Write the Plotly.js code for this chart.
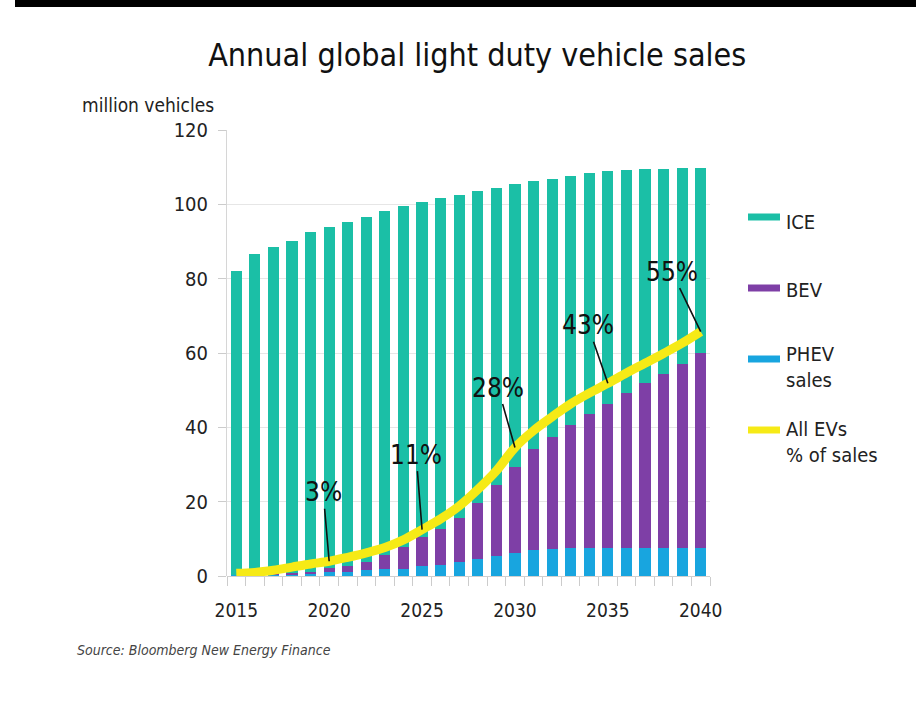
<!DOCTYPE html>
<html>
<head>
<meta charset="utf-8">
<script src="https://cdn.plot.ly/plotly-3.0.1.min.js"></script>
<style>
html,body{margin:0;padding:0;background:#fff;}
#chart{width:916px;height:715px;}
</style>
</head>
<body>
<div id="chart"></div>
<script>
const years = [2015,2016,2017,2018,2019,2020,2021,2022,2023,2024,2025,2026,2027,2028,2029,2030,2031,2032,2033,2034,2035,2036,2037,2038,2039,2040];
const phevSales = [0.2,0.2,0.3,0.4,0.6,1.0,1.2,1.5,1.8,2.0,2.8,2.9,3.7,4.5,5.4,6.3,7.0,7.3,7.5,7.5,7.5,7.5,7.5,7.5,7.5,7.5];
const bevSales = [0.1,0.2,0.3,0.4,0.6,1.1,1.5,2.4,3.9,5.7,7.8,9.7,12.0,15.1,19.1,23.1,27.3,30.2,33.1,36.0,38.7,41.7,44.4,46.9,49.5,52.6];
const iceSales = [81.7,86.3,87.9,89.3,91.3,91.8,92.6,92.8,92.4,91.9,90.0,89.0,86.9,84.0,80.0,76.1,71.9,69.4,67.1,64.9,62.7,60.0,57.5,55.1,52.7,49.6];
const evSharePct = [0.6,0.8,1.3,2.0,2.7,3.3,4.2,5.2,6.4,8.1,10.4,12.8,15.7,19.4,23.6,28.8,32.6,35.7,38.6,41.0,43.2,45.5,47.7,49.9,52.2,54.8];
const labelYears = [2020,2025,2030,2035,2040];
const labelTexts = ['3%','11%','28%','43%','55%'];
const labelOffsetsX = [-6,-6,-17,-20,-29];
const labelOffsetsY = [-69,-75,-60,-58,-60];
const xTicks = [2015,2020,2025,2030,2035,2040];
const yTicks = [0,20,40,60,80,100,120];
const legendNames = ['ICE','BEV','PHEV<br>sales','All EVs<br>% of sales'];

const C_ICE = '#1bbfa6', C_BEV = '#7e3fa6', C_PHEV = '#18a5df', C_LINE = '#f6ea16';
const legendColors = [C_ICE, C_BEV, C_PHEV, C_LINE];
const FONT = '"DejaVu Sans Condensed","DejaVu Sans","Roboto",sans-serif';

const traces = [
  {type:'bar', x:years, y:phevSales, marker:{color:C_PHEV}, name:'PHEV sales', hoverinfo:'skip'},
  {type:'bar', x:years, y:bevSales, marker:{color:C_BEV}, name:'BEV', hoverinfo:'skip'},
  {type:'bar', x:years, y:iceSales, marker:{color:C_ICE}, name:'ICE', hoverinfo:'skip'},
  {type:'scatter', mode:'lines', x:years, y:evSharePct, yaxis:'y2', name:'All EVs % of sales', line:{color:C_LINE, width:9, shape:'spline'}, hoverinfo:'skip'}
];

const W = 916-227-206, H = 715-130-139;
function px(x){return (x-227)/W;}
function py(y){return (576-y)/H;}

const annotations = labelYears.map((yr,i)=>({
  x: yr, y: evSharePct[years.indexOf(yr)], xref:'x', yref:'y2',
  text: labelTexts[i], showarrow:true, arrowhead:0, arrowwidth:1.6, arrowcolor:'#111',
  ax: labelOffsetsX[i], ay: labelOffsetsY[i], standoff:0,
  font:{family:FONT, size:26, color:'#111'}
}));
annotations.push({xref:'paper', yref:'paper', x:px(80), y:py(105), xanchor:'left', yanchor:'middle',
  text:'million vehicles', showarrow:false, font:{family:FONT, size:19, color:'#222'}});
annotations.push({xref:'paper', yref:'paper', x:px(75), y:py(650), xanchor:'left', yanchor:'middle',
  text:'<i>Source: Bloomberg New Energy Finance</i>', showarrow:false, font:{family:FONT, size:14, color:'#444'}});

// custom legend (text + swatches)
const legendTextY = [222, 290, 367, 442];
const legendSwatchY = [217, 288, 359, 430];
const shapes = [{type:'rect', xref:'paper', yref:'paper', x0:px(15), x1:px(916), y0:py(7), y1:py(0), fillcolor:'#000', line:{width:0}, layer:'above'}];
legendNames.forEach((nm,i)=>{
  annotations.push({xref:'paper', yref:'paper', x:px(784), y:py(legendTextY[i]), xanchor:'left', yanchor:'middle', align:'left',
    text:nm, showarrow:false, font:{family:FONT, size:20, color:'#222'}});
  shapes.push({type:'line', xref:'paper', yref:'paper', x0:px(748), x1:px(780), y0:py(legendSwatchY[i]), y1:py(legendSwatchY[i]),
    line:{color:legendColors[i], width:7}});
});

const layout = {
  width:916, height:715,
  margin:{l:227, r:206, t:130, b:139, pad:0},
  paper_bgcolor:'#fff', plot_bgcolor:'#fff',
  barmode:'stack', bargap:0.4, showlegend:false,
  title:{text:'Annual global light duty vehicle sales', xref:'container', yref:'container', x:0.521, y:1-55/715, xanchor:'center', yanchor:'middle',
    font:{family:FONT, size:32, color:'#111'}},
  xaxis:{range:[2014.5,2040.5], tickvals:xTicks, ticks:'', showgrid:false, zeroline:false,
    showline:false, ticklabelstandoff:21, tickfont:{family:FONT, size:19, color:'#222'},
    minor:{tick0:2014.5, dtick:1, ticks:'outside', ticklen:9, tickcolor:'#ccc', tickwidth:1, showgrid:false}},
  yaxis:{range:[0,120], tickvals:yTicks, ticks:'outside', ticklen:8, tickcolor:'#ccc', ticklabelstandoff:6,
    showgrid:true, gridcolor:'#e6e6e6', gridwidth:1, zeroline:true, zerolinecolor:'#d0d0d0', zerolinewidth:1,
    showline:true, linecolor:'#d6d6d6', linewidth:1, tickfont:{family:FONT, size:20, color:'#222'}},
  yaxis2:{range:[0,100], overlaying:'y', visible:false},
  annotations:annotations,
  shapes:shapes
};
Plotly.newPlot('chart', traces, layout, {displayModeBar:false, staticPlot:true});
</script>
</body>
</html>
